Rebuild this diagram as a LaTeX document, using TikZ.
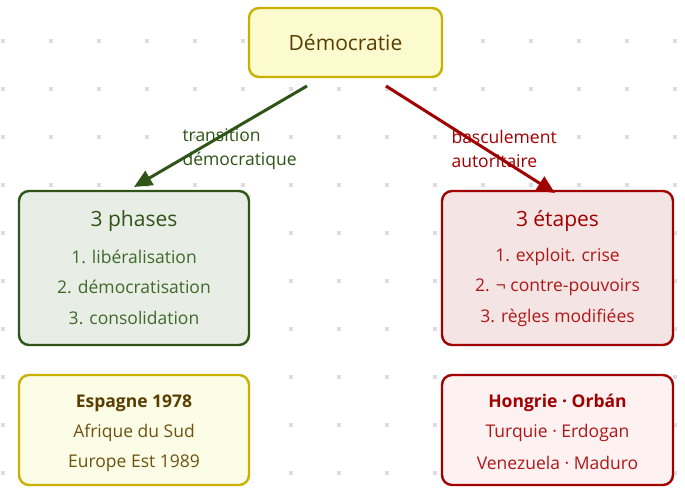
\documentclass[tikz,border=0pt]{standalone}
\usepackage{fontspec}
\setmainfont{Open Sans}
\usetikzlibrary{arrows.meta}
\definecolor{gold}{HTML}{C9B100}
\definecolor{yfill}{HTML}{FBFBCF}
\definecolor{yfill2}{HTML}{FCFDE6}
\definecolor{brown}{HTML}{5A3D00}
\definecolor{brownl}{HTML}{6E5210}
\definecolor{dgreen}{HTML}{2E5417}
\definecolor{lgreen}{HTML}{3E6A2A}
\definecolor{gfill}{HTML}{E8EDE6}
\definecolor{dred}{HTML}{A00000}
\definecolor{lred}{HTML}{B01818}
\definecolor{rfill}{HTML}{F5E4E4}
\definecolor{rfill2}{HTML}{FDF1F1}
\definecolor{dotc}{HTML}{DDDDDD}
\tikzset{
  box/.style={draw, line width=2.4pt, rounded corners=10pt, inner sep=0pt},
  ttl/.style={font=\fontsize{21}{24}\selectfont},
  itm/.style={font=\fontsize{17.5}{20}\selectfont},
  lbl/.style={font=\fontsize{17.5}{24}\selectfont, align=left, anchor=west},
  arr/.style={line width=3pt, -{Triangle[length=18pt,width=16pt]}},
}
\begin{document}
\begin{tikzpicture}[x=1pt,y=-1pt]
\useasboundingbox (0,0) rectangle (685,487);
% dot grid
\foreach \i in {0,...,14}{
  \foreach \j in {0,...,9}{
    \fill[dotc] ({3+48*\i-1.6},{41+48*\j-1.6}) rectangle ++(3.2,3.2);
  }
}
% boxes
\draw[box, gold, fill=yfill] (249,8) rectangle (442,77);
\node[ttl, text=brown] (dem) at (345.5,43) {Démocratie};
\coordinate (demL) at (307,86);
\coordinate (demR) at (386,86);

\draw[box, dgreen, fill=gfill] (19,191) rectangle (249,345);
\node[ttl, text=dgreen] (ph) at (134,221) {3 phases};
\node[itm, text=lgreen] (p1) at (134,257) {1. libéralisation};
\node[itm, text=lgreen] (p2) at (134,287) {2. démocratisation};
\node[itm, text=lgreen] (p3) at (134,318) {3. consolidation};
\coordinate (gTop) at (134,187);

\draw[box, dred, fill=rfill] (442,191) rectangle (673,345);
\node[ttl, text=dred] (et) at (557.5,221) {3 étapes};
\node[itm, text=lred] (e1) at (557.5,257) {1. exploit. crise};
\node[itm, text=lred] (e2) at (557.5,287) {2. ¬ contre-pouvoirs};
\node[itm, text=lred] (e3) at (557.5,318) {3. règles modifiées};
\coordinate (rTop) at (555,193);

\draw[box, gold, fill=yfill2] (19,375) rectangle (249,485);
\node[itm, text=brown, font=\fontsize{17.5}{20}\selectfont\bfseries] (b1) at (134,403) {Espagne 1978};
\node[itm, text=brownl] (b2) at (134,433) {Afrique du Sud};
\node[itm, text=brownl] (b3) at (134,463) {Europe Est 1989};

\draw[box, dred, fill=rfill2] (442,375) rectangle (673,485);
\node[itm, text=dred, font=\fontsize{17.5}{20}\selectfont\bfseries] (h1) at (557.5,403) {Hongrie · Orbán};
\node[itm, text=lred] (h2) at (557.5,433) {Turquie · Erdogan};
\node[itm, text=lred] (h3) at (557.5,463) {Venezuela · Maduro};

% arrows
\draw[arr, dgreen] (demL) -- (gTop);
\draw[arr, dred] (demR) -- (rTop);
\node[lbl, text=dgreen] (lt) at (179,149) {transition\\démocratique};
\node[lbl, text=dred] (lb) at (448,149) {basculement\\autoritaire};
\end{tikzpicture}
\end{document}
